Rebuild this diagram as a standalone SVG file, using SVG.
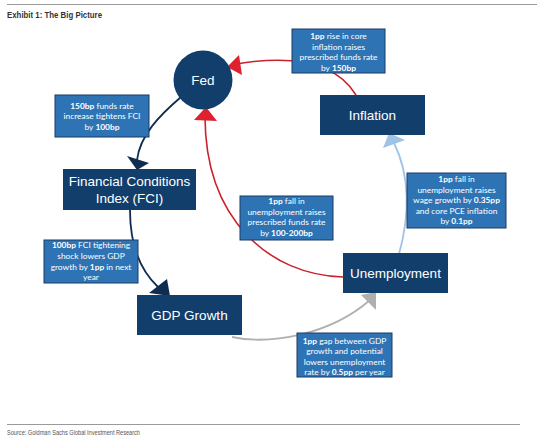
<svg xmlns="http://www.w3.org/2000/svg" width="539" height="443" viewBox="0 0 539 443">
<style>
.rule{stroke:#9a9a9a;stroke-width:1;fill:none}
.node{fill:#123e6c}
.ntext{font-family:"Liberation Sans",Arial,sans-serif;font-size:13.5px;fill:#ffffff;text-anchor:middle}
.lbl{fill:#2e74b5;stroke:#1a3b63;stroke-width:1}
.ltext{font-family:Lato,"Liberation Sans",sans-serif;font-size:8.4px;fill:#ffffff;text-anchor:middle}
.ltext tspan.b{font-weight:bold}
.red{stroke:#c8232c;stroke-width:1.6;fill:none}
.navy{stroke:#0f2d50;stroke-width:1.8;fill:none}
.lblue{stroke:#9dc3e6;stroke-width:1.8;fill:none}
.gray{stroke:#b0b0b0;stroke-width:1.8;fill:none}
</style>
<line class="rule" x1="7" y1="4.5" x2="537" y2="4.5"/>
<text x="7" y="18" font-family="Liberation Sans,Arial,sans-serif" font-weight="bold" font-size="8.5" fill="#333" textLength="95" lengthAdjust="spacingAndGlyphs">Exhibit 1: The Big Picture</text>
<line class="rule" x1="7" y1="424.5" x2="520" y2="424.5"/>
<text x="7" y="435" font-family="Liberation Sans,Arial,sans-serif" font-size="6.5" fill="#555" textLength="133" lengthAdjust="spacingAndGlyphs">Source: Goldman Sachs Global Investment Research</text>

<g id="connectors">
<path class="red" d="M 356 95 C 335 60, 290 55, 236 64"/>
<polygon fill="#e0202f" points="227,67 239,55 242,75"/>
<path class="red" d="M 343 277 C 270 275, 205 220, 205 116"/>
<polygon fill="#e0202f" points="206,107 194,120 217,121"/>
<path class="lblue" d="M 399 254 C 410 215, 410 175, 394 143"/>
<polygon fill="#9dc3e6" points="383,148 389,133 405,140"/>
<path class="gray" d="M 232 337 C 270 345, 330 335, 370 300"/>
<polygon fill="#b0b0b0" points="361,295 376,292 376,310"/>
<path class="navy" d="M 181 97 C 160 115, 140 135, 137 160"/>
<polygon fill="#0f2d50" points="127,156 149,163 137,170"/>
<path class="navy" d="M 130 210 C 130 245, 140 270, 158 287"/>
<polygon fill="#0f2d50" points="149,293 167,279 170,296"/>
</g>

<g id="fed">
<circle class="node" cx="203" cy="80" r="29.5"/>
<text class="ntext" x="203" y="85">Fed</text>
</g>
<g id="inflation">
<rect class="node" x="320" y="95" width="105" height="40"/>
<text class="ntext" x="372.5" y="120">Inflation</text>
</g>
<g id="fci">
<rect class="node" x="63" y="169" width="133" height="41"/>
<text class="ntext" x="129.5" y="186">Financial Conditions</text>
<text class="ntext" x="129.5" y="203">Index (FCI)</text>
</g>
<g id="unemployment">
<rect class="node" x="343" y="253" width="105" height="40"/>
<text class="ntext" x="395.5" y="278">Unemployment</text>
</g>
<g id="gdp">
<rect class="node" x="137" y="295" width="105" height="40"/>
<text class="ntext" x="189.5" y="320">GDP Growth</text>
</g>

<g id="label-inflation-fed">
<rect class="lbl" x="292" y="29" width="93" height="44"/>
<text class="ltext" x="338.5" y="39"><tspan class="b">1pp</tspan> rise in core</text>
<text class="ltext" x="338.5" y="49.5">inflation raises</text>
<text class="ltext" x="338.5" y="60">prescribed funds rate</text>
<text class="ltext" x="338.5" y="70.5">by <tspan class="b">150bp</tspan></text>
</g>
<g id="label-fed-fci">
<rect class="lbl" x="55" y="95" width="94" height="42"/>
<text class="ltext" x="102" y="108.5"><tspan class="b">150bp</tspan> funds rate</text>
<text class="ltext" x="102" y="119">increase tightens FCI</text>
<text class="ltext" x="102" y="129.5">by <tspan class="b">100bp</tspan></text>
</g>
<g id="label-unemp-fed">
<rect class="lbl" x="240" y="196" width="93" height="44"/>
<text class="ltext" x="286.5" y="204"><tspan class="b">1pp</tspan> fall in</text>
<text class="ltext" x="286.5" y="214.5">unemployment  raises</text>
<text class="ltext" x="286.5" y="225">prescribed funds rate</text>
<text class="ltext" x="286.5" y="235.5">by <tspan class="b">100-200bp</tspan></text>
</g>
<g id="label-unemp-inflation">
<rect class="lbl" x="407" y="173" width="99" height="55"/>
<text class="ltext" x="456.5" y="182"><tspan class="b">1pp</tspan> fall in</text>
<text class="ltext" x="456.5" y="192.5">unemployment  raises</text>
<text class="ltext" x="456.5" y="203">wage growth  by <tspan class="b">0.35pp</tspan></text>
<text class="ltext" x="456.5" y="213.5">and core PCE inflation</text>
<text class="ltext" x="456.5" y="224">by <tspan class="b">0.1pp</tspan></text>
</g>
<g id="label-fci-gdp">
<rect class="lbl" x="44" y="240" width="94" height="43"/>
<text class="ltext" x="91" y="248"><tspan class="b">100bp</tspan> FCI tightening</text>
<text class="ltext" x="91" y="259">shock lowers GDP</text>
<text class="ltext" x="91" y="269.5">growth by <tspan class="b">1pp</tspan> in next</text>
<text class="ltext" x="91" y="280">year</text>
</g>
<g id="label-gdp-unemp">
<rect class="lbl" x="297" y="333" width="95" height="44"/>
<text class="ltext" x="344.5" y="343.5"><tspan class="b">1pp</tspan> gap between GDP</text>
<text class="ltext" x="344.5" y="354">growth and potential</text>
<text class="ltext" x="344.5" y="364.5">lowers unemployment</text>
<text class="ltext" x="344.5" y="375">rate by <tspan class="b">0.5pp</tspan> per year</text>
</g>
</svg>
